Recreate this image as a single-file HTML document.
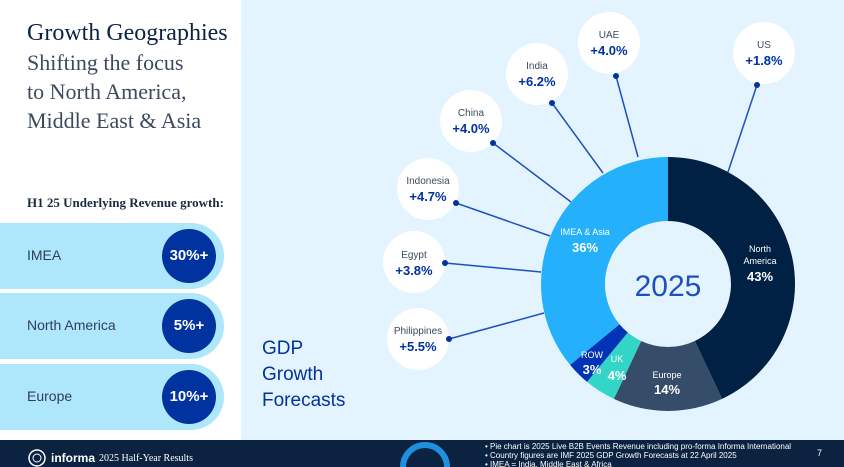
<!DOCTYPE html>
<html><head><meta charset="utf-8"><style>
html,body{margin:0;width:844px;height:467px;overflow:hidden}
body{background:#e3f4fe;font-family:"Liberation Sans",sans-serif;position:relative}
.left{position:absolute;left:0;top:0;width:241px;height:440px;background:#fff}
.t1{position:absolute;left:27px;top:20px;font-family:"Liberation Serif",serif;font-size:24px;color:#0b2341}
.t2{position:absolute;left:27px;top:48px;font-family:"Liberation Serif",serif;font-size:22px;line-height:29px;color:#3c4a5e}
.h{position:absolute;left:27px;top:195px;font-family:"Liberation Serif",serif;font-size:13px;font-weight:bold;color:#1a2a40}
.bar{position:absolute;left:0;width:224px;height:66px;background:#aee6fc;border-radius:0 33px 33px 0}
.bar span{position:absolute;left:27px;top:24px;font-size:14px;color:#2f3e55}
.bar b{position:absolute;left:162px;top:6px;width:54px;height:54px;border-radius:50%;background:#0033a0;color:#fff;font-size:15px;line-height:54px;text-align:center}
.foot{position:absolute;left:0;top:440px;width:844px;height:27px;background:#0b2341;color:#fff;overflow:hidden}
</style></head><body>
<div class="left"></div>
<div class="t1">Growth Geographies</div>
<div class="t2">Shifting the focus<br>to North America,<br>Middle East &amp; Asia</div>
<div class="h">H1 25 Underlying Revenue growth:</div>
<div class="bar" style="top:223px"><span>IMEA</span><b>30%+</b></div>
<div class="bar" style="top:293px"><span>North America</span><b>5%+</b></div>
<div class="bar" style="top:364px"><span>Europe</span><b>10%+</b></div>
<div style="position:absolute;left:262px;top:336px;font-size:19px;line-height:26px;color:#0033a0">GDP<br>Growth<br>Forecasts</div>
<svg width="844" height="440" style="position:absolute;left:0;top:0" font-family="Liberation Sans, sans-serif">
<g stroke="#1f4fbf" stroke-width="1.5">
<line x1="757" y1="85" x2="728" y2="172"/><line x1="616" y1="76" x2="638" y2="157"/>
<line x1="552" y1="103" x2="603" y2="173"/><line x1="493" y1="143" x2="571" y2="202"/>
<line x1="456" y1="203" x2="550" y2="236"/><line x1="445" y1="263" x2="541" y2="272"/>
<line x1="449" y1="339" x2="544" y2="313"/></g>
<g fill="#fff">
<circle cx="764" cy="53" r="31"/><circle cx="609" cy="43" r="31"/><circle cx="537" cy="74" r="31"/>
<circle cx="471" cy="121" r="31"/><circle cx="428" cy="189" r="31"/><circle cx="414" cy="262" r="31"/><circle cx="418" cy="339" r="31"/></g>
<g fill="#0033a0"><circle cx="757" cy="85" r="3"/><circle cx="616" cy="76" r="3"/><circle cx="552" cy="103" r="3"/><circle cx="493" cy="143" r="3"/><circle cx="456" cy="203" r="3"/><circle cx="445" cy="263" r="3"/><circle cx="449" cy="339" r="3"/></g>
<g text-anchor="middle">
<g font-size="10" fill="#3c4a5e"><text x="764" y="48">US</text><text x="609" y="38">UAE</text><text x="537" y="69">India</text><text x="471" y="116">China</text><text x="428" y="184">Indonesia</text><text x="414" y="258">Egypt</text><text x="418" y="334">Philippines</text></g>
<g font-size="13" fill="#0033a0" font-weight="bold"><text x="764" y="65">+1.8%</text><text x="609" y="55">+4.0%</text><text x="537" y="86">+6.2%</text><text x="471" y="133">+4.0%</text><text x="428" y="201">+4.7%</text><text x="414" y="275">+3.8%</text><text x="418" y="351">+5.5%</text></g>
</g>
<path d="M668,157 A127,127 0 0 1 722.1,398.9 L694.8,341 A63,63 0 0 0 668,221Z" fill="#002044"/>
<path d="M722.1,398.9 A127,127 0 0 1 613.9,398.9 L641.2,341 A63,63 0 0 0 694.8,341Z" fill="#364d6a"/>
<path d="M613.9,398.9 A127,127 0 0 1 587,381.9 L627.8,332.5 A63,63 0 0 0 641.2,341Z" fill="#33d6c6"/>
<path d="M587,381.9 A127,127 0 0 1 570.1,364.9 L619.5,324.2 A63,63 0 0 0 627.8,332.5Z" fill="#0033b5"/>
<path d="M570.1,364.9 A127,127 0 0 1 668,157 L668,221 A63,63 0 0 0 619.5,324.2Z" fill="#24b0fb"/>
<g text-anchor="middle" fill="#fff">
<text x="760" y="252" font-size="9">North</text><text x="760" y="264" font-size="9">America</text><text x="760" y="281" font-size="13" font-weight="bold">43%</text>
<text x="585" y="235" font-size="9">IMEA &amp; Asia</text><text x="585" y="252" font-size="13" font-weight="bold">36%</text>
<text x="667" y="378" font-size="9">Europe</text><text x="667" y="394" font-size="13" font-weight="bold">14%</text>
<text x="617" y="362" font-size="9">UK</text><text x="617" y="380" font-size="13" font-weight="bold">4%</text>
<text x="592" y="358" font-size="9">ROW</text><text x="592" y="374" font-size="13" font-weight="bold">3%</text>
</g>
<text x="668" y="296" text-anchor="middle" font-size="30" fill="#1f4fbf">2025</text>
</svg>
<div class="foot">
<svg width="30" height="27" style="position:absolute;left:26px;top:0"><circle cx="11" cy="18" r="8" fill="none" stroke="#fff" stroke-width="1.5"/><circle cx="11" cy="18" r="4" fill="none" stroke="#fff" stroke-width="1"/></svg>
<span style="position:absolute;left:51px;top:11px;font-size:12px;font-weight:bold">informa</span>
<span style="position:absolute;left:99px;top:13px;font-family:'Liberation Serif',serif;font-size:10px">2025 Half-Year Results</span>
<svg width="60" height="27" style="position:absolute;left:395px;top:0"><path d="M8,27 A22,22 0 0 1 52,27" fill="none" stroke="#1f8fe0" stroke-width="6"/></svg>
<div style="position:absolute;left:485px;top:2px;height:25px;overflow:hidden;font-size:8px;line-height:9px;white-space:nowrap">• Pie chart is 2025 Live B2B Events Revenue including pro-forma Informa International<br>• Country figures are IMF 2025 GDP Growth Forecasts at 22 April 2025<br>• IMEA = India, Middle East &amp; Africa</div>
<span style="position:absolute;left:817px;top:8px;font-size:9px">7</span>
</div>
</body></html>
